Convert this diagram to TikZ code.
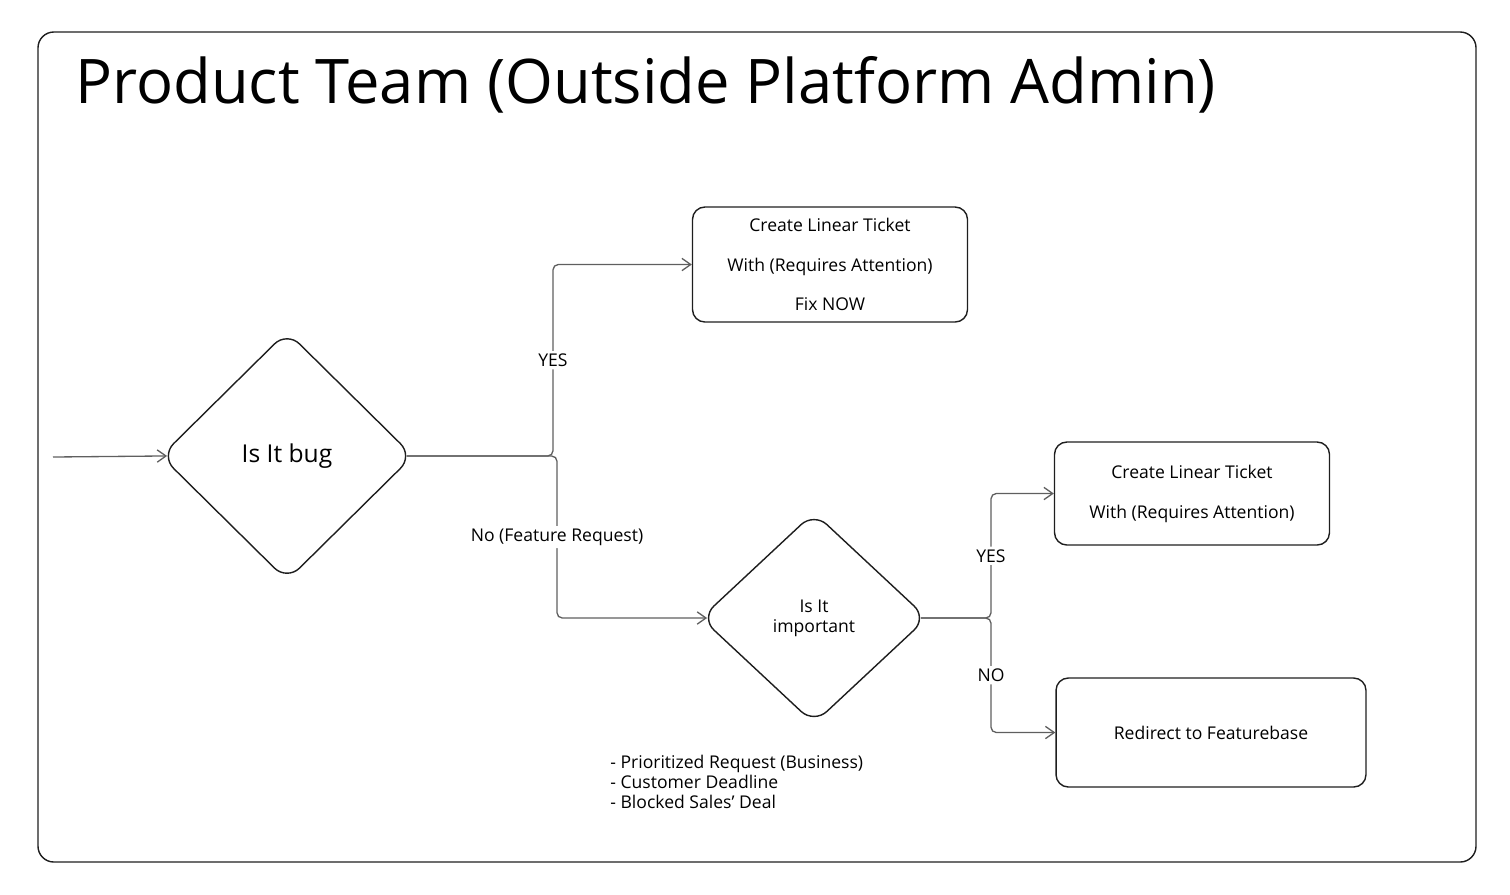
\documentclass[tikz,border=0pt]{standalone}
\usepackage{fontspec}
\setmainfont{Open Sans}
\usetikzlibrary{positioning,calc,shapes.geometric,arrows.meta}
\definecolor{inkgray}{RGB}{30,30,30}
\definecolor{wiregray}{RGB}{95,95,95}

\begin{document}
\begin{tikzpicture}[%
    x=0.02cm,y=-0.02cm,
    decision/.style={diamond,draw=inkgray,line width=0.8pt,rounded corners=10pt,
                     inner sep=0,align=center,font=\fontsize{10}{11.4}\selectfont},
    ticketbox/.style={draw=inkgray,line width=0.8pt,rounded corners=7pt,
                      align=center,font=\fontsize{10}{22.7}\selectfont},
    wire/.style={draw=wiregray,line width=0.75pt,rounded corners=3pt,
                 -{Straight Barb[length=5pt,width=7pt]}},
    offdia/.style={shorten <=-4pt},
    ondia/.style={shorten >=-4pt},
    wirelabel/.style={fill=white,inner sep=1.5pt,font=\fontsize{10}{12}\selectfont}
    ]
    \useasboundingbox (0,0) rectangle (1510,894);
    %%% Kader en titel
    \draw[inkgray,line width=0.8pt,rounded corners=9pt] (38,32) rectangle (1476,862);
    \node[anchor=base west,inner sep=0,font=\fontsize{35}{42}\selectfont] (title) at (75,103)
        {Product Team (Outside Platform Admin)};
    %%% Beslissingen
    \node[decision,minimum width=5.05cm,minimum height=4.99cm,
          font=\fontsize{14}{16}\selectfont] (bug) at (287,456) {Is It bug};
    \node[decision,minimum width=4.53cm,minimum height=4.23cm] (important) at (814,618)
        {Is It\\important};
    %%% Tickets
    \node[ticketbox,minimum width=5.5cm,minimum height=2.3cm] (fixnow) at (830,264.5)
        {Create Linear Ticket\\With (Requires Attention)\\Fix NOW};
    \node[ticketbox,minimum width=5.5cm,minimum height=2.06cm] (ticket) at (1192,493.5)
        {Create Linear Ticket\\With (Requires Attention)};
    \node[ticketbox,minimum width=6.2cm,minimum height=2.18cm] (featurebase) at (1211,732.5)
        {Redirect to Featurebase};
    %%% Criteria
    \node[anchor=west,align=left,inner sep=0,font=\fontsize{10}{11.4}\selectfont] (criteria)
        at (610,782)
        {- Prioritized Request (Business)\\- Customer Deadline\\- Blocked Sales' Deal};
    %%% Knooppunten
    \coordinate (start) at (53,457);
    \coordinate (split_yes) at (553,456);
    \coordinate (split_no) at (557,456);
    \coordinate (split_imp) at (991,618);
    %%% Verbindingen
    \path[wire,ondia] (start) -- (bug.west);
    \path[wire,offdia] (bug.east) -- (split_yes) |- node[pos=0.25,wirelabel] {YES} (fixnow.west);
    \path[wire,offdia,ondia] (bug.east) -- (split_no) |- node[pos=0.25,wirelabel] {No (Feature Request)}
        (important.west);
    \path[wire,offdia] (important.east) -- (split_imp) |- node[pos=0.25,wirelabel] {YES} (ticket.west);
    \path[wire,offdia] (important.east) -- (split_imp) |- node[pos=0.25,wirelabel] {NO}
        (featurebase.west);
\end{tikzpicture}
\end{document}
